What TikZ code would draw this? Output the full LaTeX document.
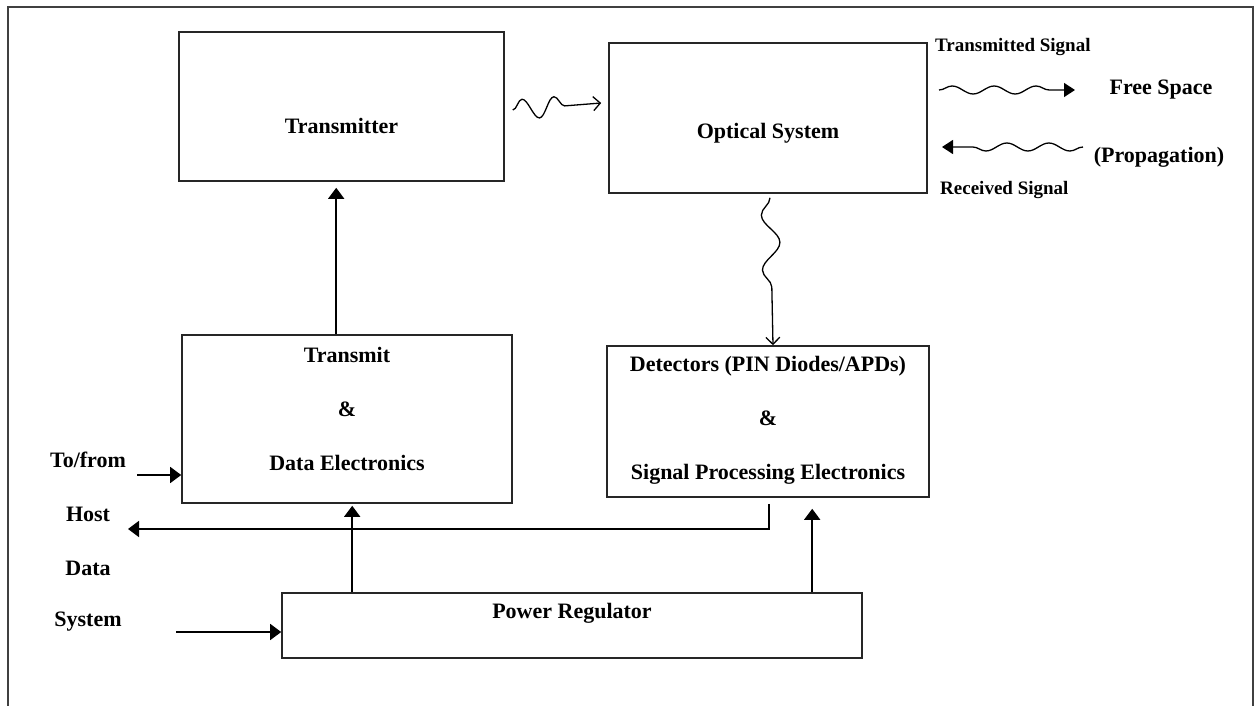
\documentclass[tikz,border=0pt]{standalone}
\usepackage{fontspec}
\setmainfont{Liberation Serif}
\usetikzlibrary{arrows.meta,decorations.pathmorphing}

\begin{document}
\begin{tikzpicture}[
  x=1pt, y=-1pt,
  font=\bfseries\fontsize{22}{26}\selectfont,
  frame/.style={draw=black!75, line width=1.8pt},
  block/.style={draw=black!85, line width=1.6pt, inner sep=0pt},
  lbl/.style={inner sep=0pt, align=center},
  smalltext/.style={lbl, font=\bfseries\fontsize{19}{22}\selectfont},
  arrow/.style={-{Triangle[length=11pt,width=16pt]}, line width=1.6pt, black},
  wave/.style={-{Straight Barb[length=7pt,width=14pt]}, line width=1.3pt, black,
    decorate, decoration={snake, amplitude=10pt, segment length=32pt, post length=22pt}},
  freewave/.style={-{Triangle[length=11pt,width=14pt]}, line width=1.3pt, black,
    decorate, decoration={snake, amplitude=4pt, segment length=42pt, post length=14pt}}
]
\useasboundingbox (0,0) rectangle (1259,706);
\draw[frame] (8,706) -- (8,7) -- (1253,7) -- (1253,706);

\node[block, minimum width=325pt, minimum height=149pt] (transmitter) at (341.5,106.5) {};
\node[block, minimum width=318pt, minimum height=150pt] (optical) at (768,118) {};
\node[block, minimum width=330pt, minimum height=168pt] (txelec) at (347,419) {};
\node[block, minimum width=322pt, minimum height=151pt] (detectors) at (768,421.5) {};
\node[block, minimum width=580pt, minimum height=65pt] (power) at (572,625.5) {};

\node[lbl] (transmitterText) at (341.5,126) {Transmitter};
\node[lbl] (opticalText) at (768,133) {Optical System};
\node[lbl] (txelecText) at (347,409)
  {Transmit\\[28pt]\&\\[28pt]Data Electronics};
\node[lbl] (detectorsText) at (768,420.5)
  {Detectors (PIN Diodes/APDs)\\[28pt]\&\\[28pt]Signal Processing Electronics};
\node[lbl] (powerText) at (572,613) {Power Regulator};

\node[lbl] (tofrom) at (88,460) {To/from};
\node[lbl] (host) at (88,514) {Host};
\node[lbl] (data) at (88,568) {Data};
\node[lbl] (system) at (88,622) {System};

\node[smalltext, anchor=west] (txSignal) at (935,47) {Transmitted Signal};
\node[lbl] (freeSpace) at (1161,90) {Free Space};
\node[lbl] (propagation) at (1159,157) {(Propagation)};
\node[smalltext, anchor=west] (rxSignal) at (940,190) {Received Signal};

\coordinate (tofromEnd) at (137,475);
\coordinate (systemEnd) at (176,632);
\coordinate (hostEnd) at (128,529);
\coordinate (fsStart) at (939,90);
\coordinate (fsEnd) at (1075,90);
\coordinate (rxStart) at (1083,147);
\coordinate (rxEnd) at (942,147);

\draw[arrow] (tofromEnd) -- (tofromEnd -| txelec.west);
\draw[arrow] (systemEnd) -- (systemEnd -| power.west);
\draw[arrow, shorten >=6pt] ([xshift=155pt]txelec.north west) -- ([xshift=158pt]transmitter.south west);
\draw[arrow, shorten >=2pt] ([xshift=71pt]power.north west) -- ([xshift=171pt]txelec.south west);
\draw[arrow, shorten >=11pt] ([xshift=531pt]power.north west) -- ([xshift=206pt]detectors.south west);
\draw[arrow] ([xshift=163pt,yshift=-6pt]detectors.south west) |- (hostEnd);

\draw[wave] ([xshift=8pt,yshift=-3.5pt]transmitter.east) -- ([xshift=-7pt,yshift=15pt]optical.west);
\draw[wave, decoration={amplitude=9pt, segment length=55pt, post length=40pt, mirror}]
  ([xshift=2pt,yshift=-4pt]optical.south) -- ([xshift=5pt]detectors.north);
\draw[freewave] (fsStart) -- (fsEnd);
\draw[freewave] (rxStart) -- (rxEnd);
\end{tikzpicture}
\end{document}
